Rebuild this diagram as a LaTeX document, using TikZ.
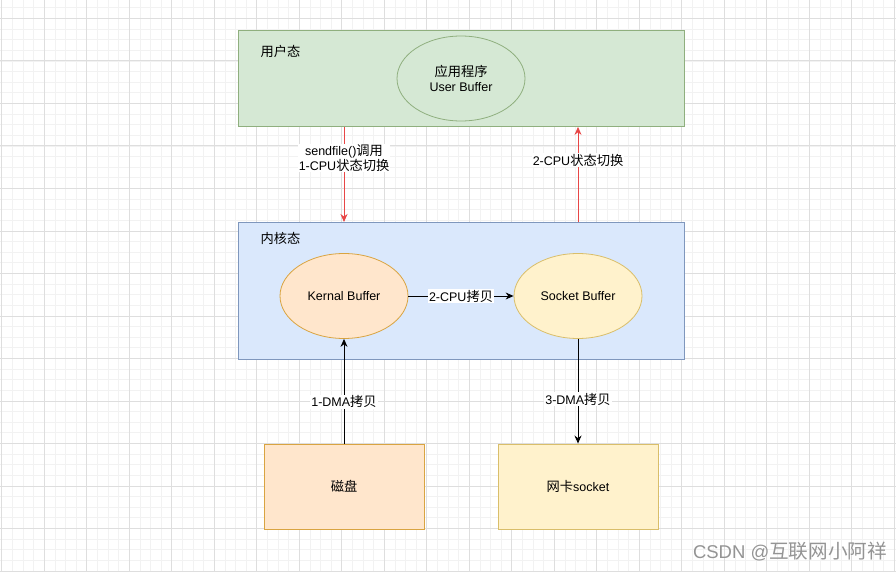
\documentclass[tikz,border=0pt]{standalone}
\usepackage{fontspec}
\setmainfont{Liberation Sans}
\newfontfamily\zhfont[Scale=1.06]{Noto Sans CJK SC}
\newcommand{\zh}[1]{{\zhfont #1}}
\usepackage{xcolor}
\usepackage{tikz}
\usetikzlibrary{shapes.geometric,arrows.meta}

\definecolor{usrfill}{HTML}{D5E8D4}
\definecolor{usrline}{HTML}{8FAF7E}
\definecolor{kerfill}{HTML}{DAE8FC}
\definecolor{kerline}{HTML}{7F97BD}
\definecolor{orgfill}{HTML}{FFE6CC}
\definecolor{orgline}{HTML}{D9A441}
\definecolor{yelfill}{HTML}{FFF2CC}
\definecolor{yelline}{HTML}{D9BE6A}
\definecolor{redline}{HTML}{E84646}

\begin{document}
\begin{tikzpicture}[x=1pt,y=-1pt,font=\fontsize{12.5}{14.5}\selectfont,
  zone/.style={draw=#1,line width=0.9pt,inner sep=0,anchor=north west},
  buf/.style={ellipse,draw=#1,line width=0.8pt,minimum width=128pt,minimum height=85pt,inner sep=0,align=center},
  dev/.style={draw=#1,line width=0.9pt,minimum width=160pt,minimum height=85pt,inner sep=0},
  flow/.style={line width=0.9pt,-{Stealth[length=8pt,width=7pt]}},
  tag/.style={fill=white,inner sep=1pt,align=center}]
  \useasboundingbox (0,0) rectangle (896,572);
  \fill[white] (0,0) rectangle (896,572);
  % grid
  \foreach \i in {0,...,84}
    \draw[black!5,line width=0.5pt] (1.7+10.625*\i,0) -- (1.7+10.625*\i,572);
  \foreach \j in {0,...,53}
    \draw[black!5,line width=0.5pt] (0,7.675+10.625*\j) -- (896,7.675+10.625*\j);
  \foreach \i in {0,...,21}
    \draw[black!13,line width=0.6pt] (1.7+42.5*\i,0) -- (1.7+42.5*\i,572);
  \foreach \j in {0,...,13}
    \draw[black!13,line width=0.6pt] (0,18.3+42.5*\j) -- (896,18.3+42.5*\j);

  % user space
  \node[zone=usrline,fill=usrfill,minimum width=446pt,minimum height=96pt] (user) at (238,30) {};
  \node[anchor=west] (userlbl) at (257,51) {\zh{用户态}};
  \node[buf=usrline,fill=usrfill] (userbuf) at (461,78.5) {\zh{应用程序}\\User Buffer};

  % kernel space
  \node[zone=kerline,fill=kerfill,minimum width=446pt,minimum height=137pt] (kernel) at (238,222) {};
  \node[anchor=west] (kernlbl) at (257,238) {\zh{内核态}};
  \node[buf=orgline,fill=orgfill] (kernbuf) at (344,296) {Kernal Buffer};
  \node[buf=yelline,fill=yelfill] (sockbuf) at (578,296) {Socket Buffer};

  % devices
  \node[dev=orgline,fill=orgfill] (disk) at (344,486.5) {\zh{磁盘}};
  \node[dev=yelline,fill=yelfill] (nic) at (578,486.5) {\zh{网卡}socket};

  % arrows
  \draw[flow,redline] (user.south -| kernbuf) -- node[tag,pos=0.33,text=black] (call) {sendfile()\zh{调用}\\1-CPU\zh{状态切换}} (kernel.north -| kernbuf);
  \draw[flow,redline] (kernel.north -| sockbuf) -- node[tag,pos=0.65,text=black] (back) {2-CPU\zh{状态切换}} (user.south -| sockbuf);
  \draw[flow] (kernbuf) -- node[tag] (cpucp) {2-CPU\zh{拷贝}} (sockbuf);
  \draw[flow] (disk) -- node[tag,pos=0.4] (dma1) {1-DMA\zh{拷贝}} (kernbuf);
  \draw[flow] (sockbuf) -- node[tag,pos=0.575] (dma3) {3-DMA\zh{拷贝}} (nic);

  \node[text=black!42,font=\fontsize{18.5}{20}\selectfont] (mark) at (790,552) {CSDN @\zh{互联网小阿祥}};
\end{tikzpicture}
\end{document}
